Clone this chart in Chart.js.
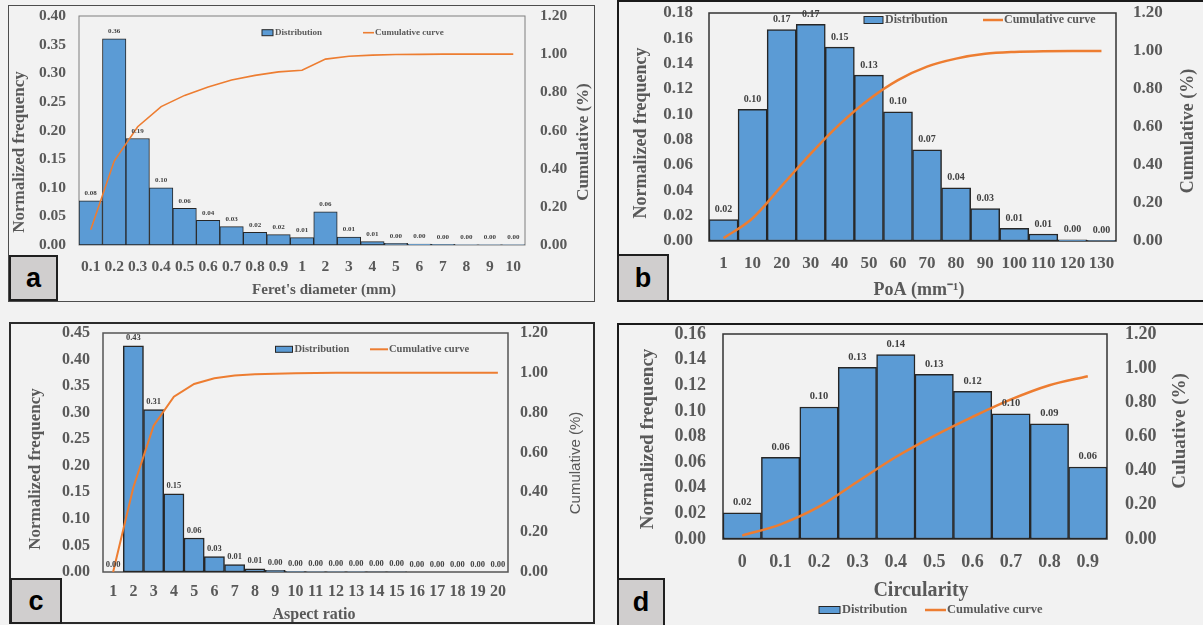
<!DOCTYPE html>
<html>
<head>
<meta charset="utf-8">
<script src="https://cdn.jsdelivr.net/npm/chart.js@4.4.1/dist/chart.umd.min.js"></script>
<style>
  html, body { margin: 0; padding: 0; background: #f2f2f2; }
  body { width: 1203px; height: 625px; position: relative; overflow: hidden; }
  .panel { position: absolute; box-sizing: border-box; }
  canvas { position: absolute; }
  .tag {
    position: absolute; box-sizing: border-box; background: #d0cece;
    border: 2px solid #1f1f1f; color: #000;
    font: bold 27px "Liberation Sans", Arial, sans-serif;
    display: flex; align-items: center; justify-content: center;
  }
</style>
</head>
<body>
<div class="panel" style="left:8px;top:5px;width:587px;height:297px;border:1.5px solid #4d4d4d"></div>
<div class="panel" style="left:617px;top:0px;width:600px;height:302px;border:2px solid #1a1a1a"></div>
<div class="panel" style="left:9px;top:322px;width:586px;height:302px;border:2px solid #2b2b2b"></div>
<div class="panel" style="left:617px;top:323px;width:600px;height:310px;border:2px solid #1a1a1a"></div>

<canvas id="chartA" width="584" height="294" style="left:9px;top:7px"></canvas>
<canvas id="chartB" width="583" height="298" style="left:620px;top:3px"></canvas>
<canvas id="chartC" width="582" height="297" style="left:11px;top:325px"></canvas>
<canvas id="chartD" width="583" height="300" style="left:620px;top:325px"></canvas>

<div class="tag" style="left:9px;top:255px;width:49px;height:46px">a</div>
<div class="tag" style="left:617px;top:254px;width:52px;height:48px">b</div>
<div class="tag" style="left:10px;top:578px;width:52px;height:46px">c</div>
<div class="tag" style="left:617px;top:578px;width:48px;height:49px">d</div>

<script>
// (a) Feret's diameter
const feretLabels = ['0.1','0.2','0.3','0.4','0.5','0.6','0.7','0.8','0.9','1','2','3','4','5','6','7','8','9','10'];
const feretFreq   = [0.077,0.360,0.186,0.100,0.064,0.043,0.032,0.022,0.018,0.013,0.058,0.014,0.006,0.003,0.0015,0.001,0.0005,0.0003,0.0002];
const feretCum    = [0.08,0.44,0.62,0.725,0.784,0.828,0.865,0.889,0.907,0.916,0.974,0.989,0.995,0.998,0.999,1.0,1.0,1.0,1.0];

// (b) PoA
const poaLabels = ['1','10','20','30','40','50','60','70','80','90','100','110','120','130'];
const poaFreq   = [0.017,0.104,0.167,0.171,0.153,0.131,0.102,0.072,0.042,0.0255,0.010,0.0055,0.001,0.0003];
const poaCum    = [0.015,0.12,0.29,0.46,0.615,0.745,0.847,0.918,0.96,0.985,0.995,0.999,1.0,1.0];

// (c) Aspect ratio
const aspectLabels = ['1','2','3','4','5','6','7','8','9','10','11','12','13','14','15','16','17','18','19','20'];
const aspectFreq   = [0,0.426,0.306,0.147,0.064,0.029,0.014,0.006,0.003,0.001,0.0005,0.0003,0.0002,0.0001,0.0001,0,0,0,0,0];
const aspectCum    = [0,0.426,0.735,0.88,0.944,0.973,0.987,0.993,0.996,0.998,0.999,1,1,1,1,1,1,1,1,1];

// (d) Circularity
const circLabels = ['0','0.1','0.2','0.3','0.4','0.5','0.6','0.7','0.8','0.9'];
const circFreq   = [0.0205,0.0638,0.103,0.134,0.144,0.1286,0.1152,0.0976,0.0898,0.0562];
const circCum    = [0.02,0.086,0.189,0.335,0.48,0.604,0.715,0.817,0.9,0.953];

const serif = '"Liberation Serif", "Times New Roman", serif';
const grey = '#595959';

// plot-area outline
const frame = {
  id: 'frame',
  beforeDatasetsDraw(chart, args, o) {
    const { ctx, chartArea: a } = chart;
    ctx.save();
    ctx.strokeStyle = o.color;
    ctx.lineWidth = o.width;
    ctx.strokeRect(a.left, a.top, a.right - a.left, a.bottom - a.top);
    ctx.restore();
  }
};

// value printed above each bar
const barValues = {
  id: 'barValues',
  afterDatasetsDraw(chart, args, o) {
    const ctx = chart.ctx;
    chart.data.datasets.forEach((ds, i) => {
      if (ds.type !== 'bar') return;
      const meta = chart.getDatasetMeta(i);
      ctx.save();
      ctx.font = o.font;
      ctx.fillStyle = o.color;
      ctx.textAlign = 'center';
      ctx.textBaseline = 'middle';
      meta.data.forEach((el, j) => {
        ctx.fillText(ds.data[j].toFixed(2), el.x, el.y - o.gap);
      });
      ctx.restore();
    });
  }
};

// legend keys
const keyBox = {
  id: 'keyBox',
  afterDraw(chart, args, o) {
    const ctx = chart.ctx;
    const bar = chart.data.datasets.find(d => d.type === 'bar');
    const line = chart.data.datasets.find(d => d.type === 'line');
    ctx.save();
    ctx.font = o.font;
    ctx.textBaseline = 'middle';
    ctx.textAlign = 'left';
    ctx.fillStyle = bar.backgroundColor;
    ctx.fillRect(o.barX, o.y - o.barH / 2, o.barW, o.barH);
    ctx.strokeStyle = '#262626';
    ctx.lineWidth = 1;
    ctx.strokeRect(o.barX, o.y - o.barH / 2, o.barW, o.barH);
    ctx.fillStyle = grey;
    ctx.fillText(bar.label, o.barX + o.barW + 2, o.y);
    ctx.strokeStyle = line.borderColor;
    ctx.lineWidth = line.borderWidth;
    ctx.beginPath();
    ctx.moveTo(o.lineX, o.y);
    ctx.lineTo(o.lineX + o.lineW, o.y);
    ctx.stroke();
    ctx.fillStyle = grey;
    ctx.fillText(line.label, o.lineX + o.lineW + 1, o.y);
    ctx.restore();
  }
};

// axis titles
const axisTitles = {
  id: 'axisTitles',
  afterDraw(chart, args, o) {
    const ctx = chart.ctx;
    (o.items || []).forEach(t => {
      ctx.save();
      ctx.translate(t.x, t.y);
      if (t.vertical) ctx.rotate(-Math.PI / 2);
      ctx.font = t.font;
      ctx.fillStyle = grey;
      ctx.textAlign = 'center';
      ctx.textBaseline = 'middle';
      ctx.fillText(t.text, 0, 0);
      ctx.restore();
    });
  }
};

function histogram(id, c) {
  const tickFont = { family: serif, weight: 'bold', size: c.tick, lineHeight: 1 };
  // fixed box sizes; the value axes reserve no extra room above/below the plot
  const sideFit = w => s => { s.width = w; s.paddingTop = 0; s.paddingBottom = 0; };
  return new Chart(document.getElementById(id), {
    type: 'bar',
    data: {
      labels: c.labels,
      datasets: [
        {
          type: 'line', label: 'Cumulative curve', data: c.cum, yAxisID: 'y1',
          borderColor: '#ed7d31', borderWidth: c.lineWidth, pointRadius: 0,
          tension: c.smooth ? 0.4 : 0, cubicInterpolationMode: c.smooth ? 'monotone' : 'default',
          order: 0
        },
        {
          type: 'bar', label: 'Distribution', data: c.freq, yAxisID: 'y',
          backgroundColor: '#5b9bd5', borderColor: '#262626', borderWidth: c.barBorder,
          borderSkipped: false, barPercentage: 1, categoryPercentage: 1, order: 1
        }
      ]
    },
    options: {
      responsive: false, animation: false, devicePixelRatio: 1,
      layout: { padding: { top: c.top, left: 0, right: 0, bottom: 0 } },
      plugins: {
        legend: { display: false },
        tooltip: { enabled: false },
        frame: c.frame,
        barValues: c.values,
        keyBox: c.key,
        axisTitles: { items: c.titles }
      },
      scales: {
        x: {
          type: 'category', offset: true,
          grid: { display: false, drawTicks: false }, border: { display: false },
          ticks: { autoSkip: false, maxRotation: 0, minRotation: 0, padding: c.xPad, color: grey, font: tickFont },
          afterFit(s) { s.height = c.xH; }
        },
        y: {
          position: 'left', min: 0, max: c.yMax,
          grid: { display: false, drawTicks: false }, border: { display: false },
          ticks: { stepSize: c.yStep, padding: c.lPad, color: grey, font: tickFont, callback: v => Number(v).toFixed(2) },
          afterFit: sideFit(c.lW)
        },
        y1: {
          position: 'right', min: 0, max: 1.2,
          grid: { display: false, drawTicks: false }, border: { display: false },
          ticks: { stepSize: 0.2, padding: c.rPad, color: grey, font: tickFont, callback: v => Number(v).toFixed(2) },
          afterFit: sideFit(c.rW)
        }
      }
    },
    plugins: [frame, barValues, keyBox, axisTitles]
  });
}

histogram('chartA', {
  labels: feretLabels, freq: feretFreq, cum: feretCum,
  yMax: 0.4, yStep: 0.05, tick: 15.5, top: 9, lW: 70, rW: 68, xH: 56,
  lPad: 13, rPad: 15, xPad: 14, lineWidth: 1.6, barBorder: 1, smooth: false,
  frame: { color: '#7f7f7f', width: 1 },
  values: { font: 'bold 7px ' + serif, color: '#404040', gap: 7.5 },
  key: { font: 'bold 9px ' + serif, y: 25.7, barX: 253, barW: 11, barH: 6, lineX: 354, lineW: 11 },
  titles: [
    { text: 'Normalized frequency', x: 11, y: 145, vertical: true, font: 'bold 17px ' + serif },
    { text: 'Cumulative (%)', x: 575, y: 135, vertical: true, font: 'bold 17px ' + serif },
    { text: "Feret's diameter (mm)", x: 315, y: 283, font: 'bold 15px ' + serif }
  ]
});

histogram('chartB', {
  labels: poaLabels, freq: poaFreq, cum: poaCum,
  yMax: 0.18, yStep: 0.02, tick: 17, top: 10, lW: 89, rW: 87, xH: 60,
  lPad: 16, rPad: 17, xPad: 14, lineWidth: 2.5, barBorder: 1.5, smooth: true,
  frame: { color: '#333333', width: 1.5 },
  values: { font: 'bold 10px ' + serif, color: '#404040', gap: 10 },
  key: { font: 'bold 12px ' + serif, y: 17, barX: 244, barW: 19, barH: 7, lineX: 363, lineW: 20 },
  titles: [
    { text: 'Normalized frequency', x: 21, y: 130, vertical: true, font: 'bold 18px ' + serif },
    { text: 'Cumulative (%)', x: 568, y: 128, vertical: true, font: 'bold 18px ' + serif },
    { text: 'PoA (mm\u207B\u00B9)', x: 299, y: 287, font: 'bold 18px ' + serif }
  ]
});

histogram('chartC', {
  labels: aspectLabels, freq: aspectFreq, cum: aspectCum,
  yMax: 0.45, yStep: 0.05, tick: 16, top: 8, lW: 92, rW: 85, xH: 50,
  lPad: 13, rPad: 12, xPad: 12, lineWidth: 2, barBorder: 1.5, smooth: false,
  frame: { color: '#555555', width: 1.5 },
  values: { font: 'bold 8.5px ' + serif, color: '#404040', gap: 7.7 },
  key: { font: 'bold 10.5px ' + serif, y: 24.3, barX: 264.5, barW: 17, barH: 6, lineX: 359, lineW: 18 },
  titles: [
    { text: 'Normalized frequency', x: 25, y: 144, vertical: true, font: 'bold 17px ' + serif },
    { text: 'Cumulative (%)', x: 565, y: 138, vertical: true, font: '15px "Liberation Sans", Arial, sans-serif' },
    { text: 'Aspect ratio', x: 303, y: 290, font: 'bold 16px ' + serif }
  ]
});

histogram('chartD', {
  labels: circLabels, freq: circFreq, cum: circCum,
  yMax: 0.16, yStep: 0.02, tick: 18, top: 9, lW: 103, rW: 96, xH: 86,
  lPad: 17, rPad: 18, xPad: 14, lineWidth: 2.5, barBorder: 1.5, smooth: true,
  frame: { color: '#333333', width: 1.5 },
  values: { font: 'bold 10.5px ' + serif, color: '#404040', gap: 10.4 },
  key: { font: 'bold 12.5px ' + serif, y: 285, barX: 199, barW: 21, barH: 7, lineX: 305, lineW: 21 },
  titles: [
    { text: 'Normalized frequency', x: 28, y: 114, vertical: true, font: 'bold 19px ' + serif },
    { text: 'Culuative (%)', x: 560, y: 106, vertical: true, font: 'bold 19px ' + serif },
    { text: 'Circularity', x: 301, y: 266, font: 'bold 20px ' + serif }
  ]
});
</script>
</body>
</html>
